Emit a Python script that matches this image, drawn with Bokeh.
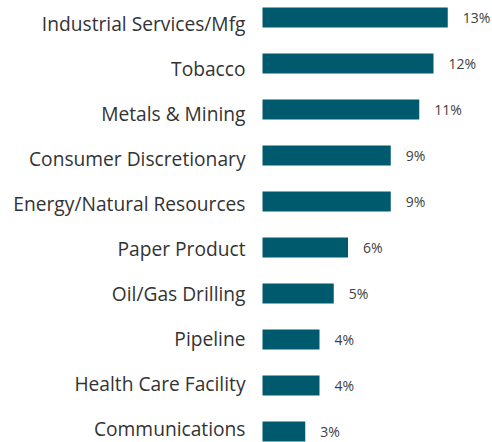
from bokeh.plotting import figure
from bokeh.models import ColumnDataSource, Range1d
from bokeh.core.properties import value
from bokeh.embed import file_html
from bokeh.resources import INLINE

categories = ["Industrial Services/Mfg", "Tobacco", "Metals & Mining",
              "Consumer Discretionary", "Energy/Natural Resources",
              "Paper Product", "Oil/Gas Drilling", "Pipeline",
              "Health Care Facility", "Communications"]
values = [13, 12, 11, 9, 9, 6, 5, 4, 4, 3]
value_labels = ["13%", "12%", "11%", "9%", "9%", "6%", "5%", "4%", "4%", "3%"]

n = len(categories)

W, H = 492, 442
px_per_unit = 14.25
row_px = 46.0          # bar row pitch in pixels
label_row_px = 45.0    # category label pitch in pixels (slightly tighter)
bar_left_px = 262
x_start = -bar_left_px / px_per_unit
x_end = (W - bar_left_px) / px_per_unit
y_top = (n - 1) + 17.0 / row_px
y_bot = y_top - H / row_px

ypos = [n - 1 - i for i in range(n)]
label_y = [y_top - (17.0 + label_row_px * i) / row_px for i in range(n)]

src = ColumnDataSource(dict(cat=categories, val=values, lab=value_labels, y=ypos,
                            ly=label_y, zero=[0] * n))

p = figure(width=W, height=H, output_backend="svg", toolbar_location=None,
           x_range=Range1d(x_start, x_end), y_range=Range1d(y_bot, y_top),
           min_border=0, outline_line_color=None, background_fill_color="white",
           border_fill_color="white")
p.axis.visible = False
p.grid.visible = False

p.hbar(y="y", left="zero", right="val", height=20.0 / row_px, source=src,
       fill_color="#005a6e", line_color=None)

p.text(x="zero", y="ly", text="cat", source=src, x_offset=-17, y_offset=5.5,
       text_align="right", text_baseline="middle",
       text_font=value("Open Sans"), text_font_size="19.2px", text_color="#333333")

p.text(x="val", y="y", text="lab", source=src, x_offset=15, y_offset=0,
       text_align="left", text_baseline="middle",
       text_font=value("Open Sans"), text_font_size="14px", text_color="#404040")

open("out.html", "w").write(file_html(p, INLINE))
